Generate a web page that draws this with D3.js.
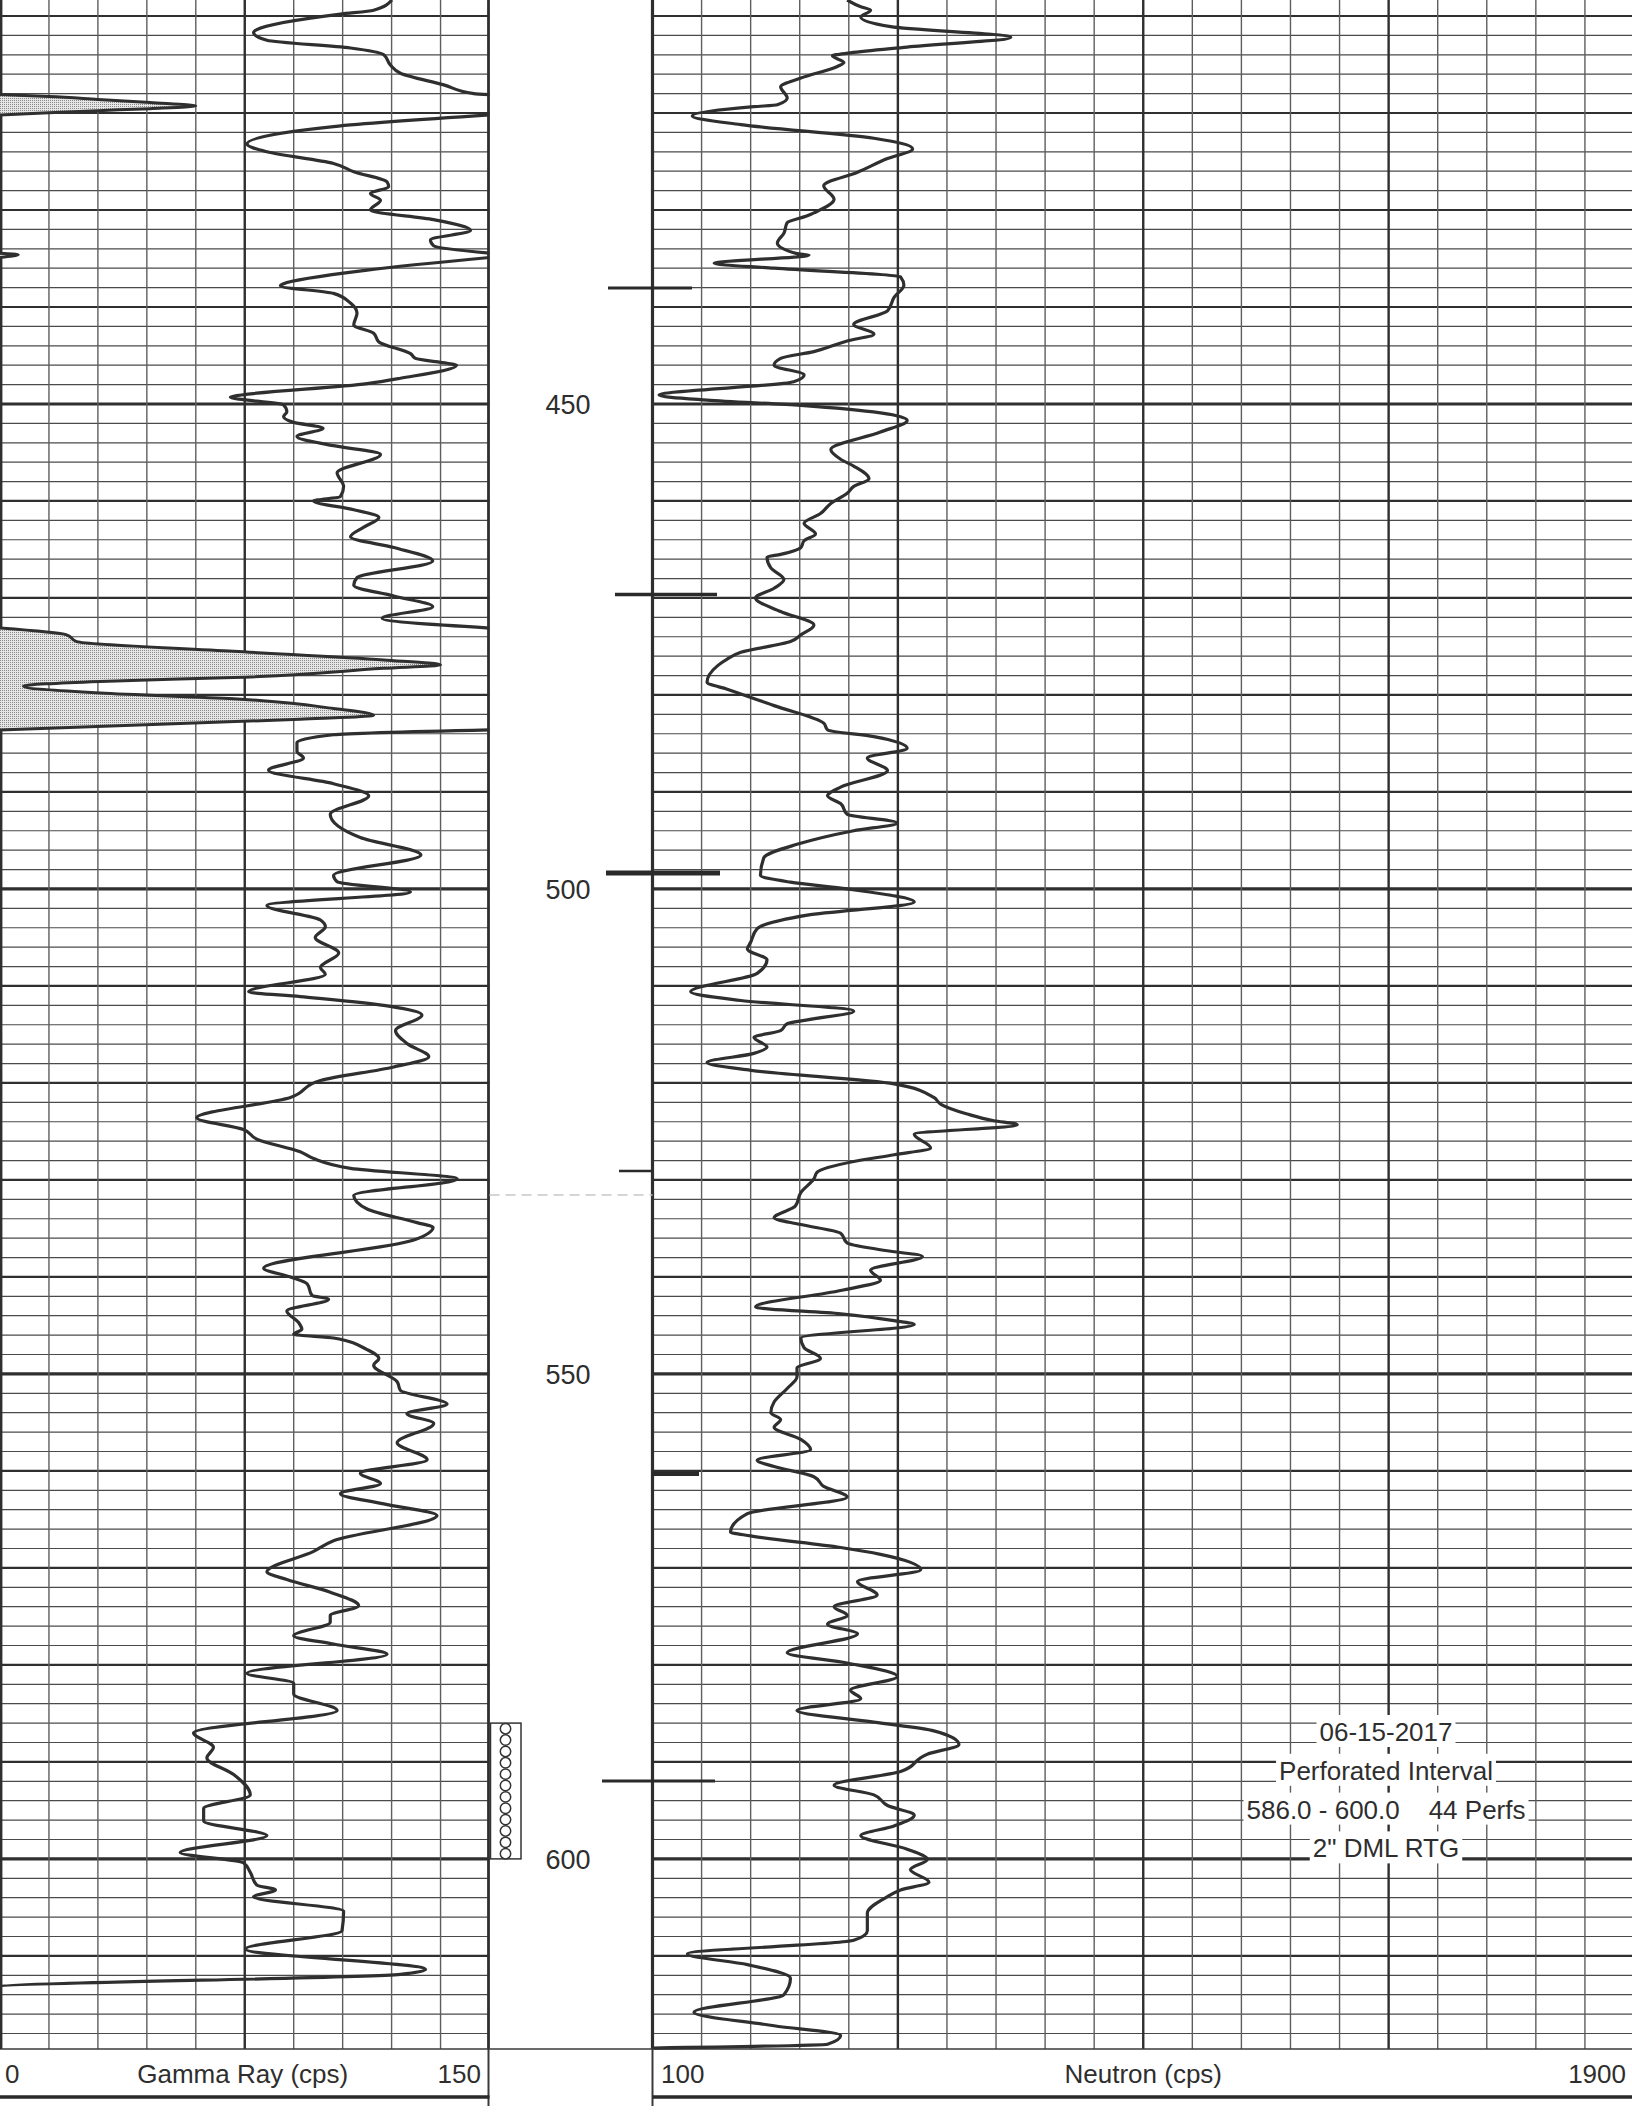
<!DOCTYPE html>
<html><head><meta charset="utf-8">
<script src="https://cdn.jsdelivr.net/npm/d3@7"></script>
<style>
html,body{margin:0;padding:0;background:#fff;}
svg{display:block;}
text{font-family:"Liberation Sans",Arial,sans-serif;fill:#2e2e2e;}
</style></head><body>
<svg id="chart" width="1632" height="2112"></svg>
<script>
// ---------- data ----------
// Gamma ray log [depth ft, cps]; values above 150 wrap onto the backup (shaded) scale
const grPoints = [
[408.35,120.1],[409.4,114.5],[409.8,104.3],[411.4,78.7],[411.7,77.7],[412.5,81.8],[413.3,107.4],[414.0,117.6],[415.05,119.6],[415.9,122.7],
[417.1,136],[418.0,145.2],[418.1,150],[418.3,165],[418.6,180],[418.93,196],[419.28,210],[419.55,196],[419.76,180],[419.97,165],
[420.2,150],[421.4,102.2],[421.9,90],[423.2,75.7],[424.0,81.8],[425.2,102.2],[426.05,108.4],[427.1,118.6],[427.6,119.1],[428.3,113.5],
[429.0,116.6],[430.0,113.5],[431.0,132.9],[432.1,144.2],[433.1,131.9],[433.7,132.9],[434.45,150],[434.6,155.6],[434.9,150],[436.2,112.5],
[437.6,86.9],[437.8,85.9],[438.6,102.2],[439.6,107.4],[440.65,109.4],[441.85,108.4],[442.7,114.5],[443.6,116.1],[444.8,125.8],[445.3,127.3],
[445.8,137],[446.0,139.9],[447.35,122.7],[447.9,112.5],[449.2,71.6],[449.3,70.6],[450.1,86.9],[450.8,87.9],[451.3,86.9],[451.9,90],
[452.5,99],[453.35,91],[454.3,102.2],[455.2,116.6],[457.1,103.3],[458.5,105.3],[459.55,104.3],[460.0,96.1],[460.9,108.4],[461.7,116.1],
[462.7,111.5],[463.7,107.4],[464.8,120.7],[466.2,132.6],[467.9,109.4],[468.7,108.4],[469.8,120.7],[470.9,132.6],[472.1,117.1],[473.1,150],
[473.8,170.4],[474.5,173.5],[475.5,221.6],[476.4,267.6],[476.9,285],[477.25,267.6],[478.2,221.6],[478.6,180.7],[479.1,157.2],[479.8,180.7],
[480.4,221.6],[481.4,252.2],[482.1,264.5],[482.5,242],[483.0,201],[483.6,150],[484.1,102.2],[484.9,91],[485.8,91],[486.5,93],
[487.75,82.3],[489.15,102.2],[490.4,113],[492.3,101.2],[494.7,110.4],[496.5,129],[498.6,102.2],[499.25,103.3],[500.3,125.8],[501.7,81.8],
[503.2,98.2],[503.9,99.7],[505.0,96.6],[506.6,103.8],[508.1,98.2],[508.8,99.7],[510.6,76.2],[511.1,92],[512.1,119.6],[513.0,129.3],
[514.6,121.2],[516.0,125],[517.3,131.4],[518.35,120.7],[519.75,98.2],[521.5,89],[523.6,60.3],[524.8,74.6],[525.8,78.7],[527.1,92],
[527.8,96.1],[528.8,107.4],[529.9,140.1],[531.6,108.4],[533.0,112.5],[534.4,127.8],[534.9,132.7],[536.2,126.8],[539.1,80.8],[540.0,89],
[540.7,94.1],[541.9,95.6],[542.3,100.7],[543.5,87.9],[544.7,91.5],[545.4,92.5],[545.9,90],[546.3,102.2],[547.5,112.5],[548.4,116.1],
[549.1,114.5],[550.8,121.7],[551.7,122.7],[553.1,137],[554.1,124.7],[555.1,132.9],[557.1,121.7],[558.85,130.9],[560.25,110.4],[561.3,116.6],
[562.35,104.3],[563.4,117.6],[564.6,133.9],[567.2,102.2],[568.3,96.1],[570.4,81.8],[571.2,87.9],[572.5,101.2],[573.9,109.9],[574.9,101.2],
[575.6,101.2],[577.0,90],[577.85,102.2],[578.9,118.6],[580.85,75.7],[581.9,90],[583.0,90],[584.7,103.3],[587.0,59.3],[588.5,65.4],
[589.6,63.4],[591.3,71.6],[593.4,76.7],[594.8,62.4],[596.1,62.4],[597.6,81.8],[599.35,55.2],[600.4,74.6],[601.4,76.7],[602.7,78.7],
[603.2,84.4],[603.9,77.7],[605.4,105.3],[607.4,104.8],[609.3,75.2],[611.4,130.4],[611.9,122.7],[613.2,0],[619.6,0]
];
// Neutron log [depth ft, cps]
const neutronPoints = [
[408.35,457],[409.05,482],[409.4,500],[410.1,482],[411.1,537],[412.2,757],[413.2,567],[413.8,463],[414.1,430],[414.8,451],
[415.2,439],[416.4,372],[417.3,335],[418.45,347],[419.15,329],[419.35,286],[420.3,173],[421.2,262],[422.6,506],[423.7,577],
[424.7,531],[426.1,476],[427.5,414],[428.9,433],[430.3,396],[430.6,384],[431.3,347],[432.4,341],[433.4,329],[434.5,365],
[434.65,387],[435.5,213],[436.0,323],[436.9,555],[437.75,561],[439.0,543],[440.4,531],[441.8,469],[442.8,506],[443.5,457],
[444.6,396],[445.3,335],[446.0,323],[447.0,378],[447.7,359],[449.1,112],[449.6,200],[450.15,372],[451.7,567],[452.9,518],
[454.7,427],[455.7,445],[456.4,469],[457.7,497],[458.5,469],[459.2,457],[460.25,427],[461.3,408],[462.3,378],[463.4,399],
[464.1,378],[464.8,372],[465.5,335],[465.8,310],[466.9,317],[468.1,341],[469.0,323],[470.0,289],[471.4,335],[472.8,396],
[473.8,372],[474.5,353],[475.6,262],[476.3,237],[477.0,219],[478.7,200],[479.4,237],[481.1,323],[482.9,414],[483.6,421],
[484.3,506],[485.5,567],[486.5,494],[487.8,531],[489.5,445],[490.4,421],[491.2,445],[492.3,457],[493.2,549],[494.0,469],
[495.4,365],[496.8,304],[498.6,298],[499.3,353],[500.0,457],[501.35,580],[502.7,384],[504.1,292],[505.5,280],[506.2,274],
[507.3,310],[508.7,292],[510.6,170],[511.5,262],[512.6,469],[513.5,384],[513.9,347],[514.6,335],[515.3,286],[516.3,310],
[516.95,286],[517.9,200],[518.7,280],[520.1,543],[521.5,616],[522.2,629],[523.2,677],[523.9,726],[524.3,769],[525.3,580],
[526.7,610],[527.4,543],[528.1,469],[529.2,402],[529.9,396],[531.3,372],[532.7,362],[533.9,323],[534.6,372],[535.5,445],
[536.5,457],[537.2,518],[537.9,595],[539.3,500],[540.35,518],[541.4,445],[543.1,289],[543.8,445],[544.5,543],[544.9,580],
[546.3,372],[547.3,378],[548.4,408],[549.4,365],[550.3,365],[551.5,347],[552.9,323],[554.0,317],[554.7,335],[555.5,323],
[556.75,372],[557.8,390],[558.9,292],[559.55,323],[560.6,396],[561.6,414],[562.7,457],[564.4,274],[566.3,243],[566.7,280],
[567.9,445],[568.6,518],[570.2,592],[571.4,476],[572.8,512],[574.0,433],[574.9,457],[575.8,421],[576.8,476],[578.75,347],
[579.8,457],[581.2,549],[582.6,463],[583.5,482],[584.7,365],[585.9,506],[586.8,616],[588.2,662],[589.2,604],[591.0,555],
[592.4,433],[593.4,506],[594.5,531],[595.5,580],[596.6,543],[597.6,482],[599.0,567],[600.05,604],[601.1,573],[602.4,607],
[603.2,555],[603.9,531],[605.6,494],[607.4,494],[608.4,469],[609.8,164],[610.9,274],[612.3,353],[614.0,341],[615.8,176],
[617.2,323],[618.2,445],[619.1,421],[619.5,102]
];
const depthDomain = [408.35, 619.6];
const depthLabels = [450, 500, 550, 600];
const grDomain = [0, 150];
const grLabels = ["0", "Gamma Ray (cps)", "150"];
const neutronDomain = [100, 1900];
const neutronLabels = ["100", "Neutron (cps)", "1900"];
const collarDepths = [438.04, 469.64, 498.35, 529.07, 560.31, 591.96];
const perfInterval = [586.0, 600.0];
const perfShots = 12;
const noteLines = ["06-15-2017", "Perforated Interval", "586.0 - 600.0    44 Perfs", "2\" DML RTG"];
const noteDepths = [588, 592, 596, 600];

// ---------- layout / style ----------
const W = 1632, H = 2112;
const gridBottom = 2049;
const grX = [0, 489.5];
const nX = [652.5, 1634];
const ink = "#2f2f2f";
const collarExtents = [[608,692,3],[615,717,3.5],[606,720,5],[619,652,2.5],[652,699,4],[602,715,3]];

const svg = d3.select("#chart");
const defs = svg.append("defs");
const pat = defs.append("pattern").attr("id","stipple").attr("width",2).attr("height",2).attr("patternUnits","userSpaceOnUse");
pat.append("rect").attr("width",2).attr("height",2).attr("fill","#e6e6e6");
pat.append("rect").attr("width",1).attr("height",1).attr("fill","#8a8a8a");

const y = d3.scaleLinear().domain(depthDomain).range([0, gridBottom]);
const xGR = d3.scaleLinear().domain(grDomain).range(grX);
const xN = d3.scaleLinear().domain(neutronDomain).range(nX);

svg.append("rect").attr("width",W).attr("height",H).attr("fill","#fff");

// ---------- grid ----------
const grid = svg.append("g");
const hDepths = d3.range(410, 619, 2);
function hw(d){ return d % 50 === 0 ? 3.2 : (d % 10 === 0 ? 2.2 : 1.2); }
function hc(d){ return d % 10 === 0 ? "#2f2f2f" : "#4a4a4a"; }
[[grX[0], grX[1]], [nX[0], W]].forEach(([a,b]) => {
  grid.selectAll(null).data(hDepths).enter().append("line")
    .attr("x1",a).attr("x2",b).attr("y1",d=>y(d)).attr("y2",d=>y(d))
    .attr("stroke",hc).attr("stroke-width",hw);
});
// vertical lines
const grTicks = d3.range(0, 151, 15);
grid.selectAll(null).data(grTicks).enter().append("line")
  .attr("x1",d=>Math.max(1,Math.min(488.5,xGR(d)))).attr("x2",d=>Math.max(1,Math.min(488.5,xGR(d))))
  .attr("y1",0).attr("y2",gridBottom)
  .attr("stroke",d=> (d===75||d===0||d===150) ? "#2f2f2f" : "#5e5e5e")
  .attr("stroke-width",d=> d===75 ? 2.4 : (d===0||d===150 ? 2.8 : 1.4));
const nTicks = d3.range(100, 1901, 90);
grid.selectAll(null).data(nTicks).enter().append("line")
  .attr("x1",d=>xN(d)).attr("x2",d=>xN(d)).attr("y1",0).attr("y2",gridBottom)
  .attr("stroke",d=> ((d-100)%450===0) ? "#2f2f2f" : "#5e5e5e")
  .attr("stroke-width",d=> d===100 ? 3.2 : (((d-100)%450===0) ? 2.4 : 1.4));
// grid bottom border across page
grid.append("line").attr("x1",0).attr("x2",W).attr("y1",gridBottom).attr("y2",gridBottom)
  .attr("stroke","#3a3a3a").attr("stroke-width",1.5);
// track borders extend into label band
[488.5, nX[0]].forEach(x => grid.append("line").attr("x1",x).attr("x2",x)
  .attr("y1",gridBottom).attr("y2",2106).attr("stroke","#3a3a3a").attr("stroke-width",2));
// bottom heavy lines
grid.append("line").attr("x1",0).attr("x2",grX[1]).attr("y1",2097).attr("y2",2097).attr("stroke","#2a2a2a").attr("stroke-width",3.5);
grid.append("line").attr("x1",nX[0]).attr("x2",W).attr("y1",2097).attr("y2",2097).attr("stroke","#2a2a2a").attr("stroke-width",3.5);
// faint paper fold in the depth track
grid.append("line").attr("x1",grX[1]).attr("x2",nX[0]).attr("y1",1195).attr("y2",1195)
  .attr("stroke","#c8c8c8").attr("stroke-width",1.5).attr("stroke-dasharray","10,6");

// ---------- curves ----------
const curves = svg.append("g");
const grData = grPoints.map(([d,v]) => ({d, v}));
const nData = neutronPoints.map(([d,v]) => ({d, v}));

// backup (wrapped) gamma ray, shaded from the left edge
const backArea = d3.area().defined(p => p.v >= 150)
  .y(p => y(p.d)).x0(xGR(0)).x1(p => xGR(p.v - 150)).curve(d3.curveMonotoneY);
const backLine = d3.line().defined(p => p.v >= 150)
  .y(p => y(p.d)).x(p => xGR(p.v - 150)).curve(d3.curveMonotoneY);
curves.append("path").attr("d", backArea(grData)).attr("fill","url(#stipple)");
curves.append("path").attr("d", backLine(grData)).attr("fill","none")
  .attr("stroke",ink).attr("stroke-width",3).attr("stroke-linejoin","round");

// main gamma ray: only where on scale (segments beyond 150 are shown on the backup)
const grLine = d3.line().defined(p => p.v <= 150)
  .y(p => y(p.d)).x(p => xGR(p.v)).curve(d3.curveMonotoneY);
curves.append("path").attr("d", grLine(grData)).attr("fill","none")
  .attr("stroke",ink).attr("stroke-width",3.2).attr("stroke-linejoin","round");

const nLine = d3.line().y(p => y(p.d)).x(p => xN(p.v)).curve(d3.curveMonotoneY);
curves.append("path").attr("d", nLine(nData)).attr("fill","none")
  .attr("stroke",ink).attr("stroke-width",3.2).attr("stroke-linejoin","round");

// ---------- depth track ----------
const dt = svg.append("g");
dt.selectAll(null).data(depthLabels).enter().append("text")
  .attr("x",568).attr("y",d=>y(d)).attr("dy","0.36em").attr("text-anchor","middle")
  .attr("font-size",27).text(d=>d);
dt.selectAll(null).data(collarDepths).enter().append("line")
  .attr("x1",(d,i)=>collarExtents[i][0]).attr("x2",(d,i)=>collarExtents[i][1])
  .attr("y1",d=>y(d)).attr("y2",d=>y(d))
  .attr("stroke","#2a2a2a").attr("stroke-width",(d,i)=>collarExtents[i][2]);
// perforation box
const pTop = y(perfInterval[0]), pBot = y(perfInterval[1]);
dt.append("rect").attr("x",490.5).attr("y",pTop).attr("width",30.5).attr("height",pBot-pTop)
  .attr("fill","#fff").attr("stroke","#333").attr("stroke-width",1.5);
const shotY = d3.scaleLinear().domain([0, perfShots-1]).range([pTop+5.6, pBot-5.2]);
dt.selectAll(null).data(d3.range(perfShots)).enter().append("circle")
  .attr("cx",505.5).attr("cy",i=>shotY(i)).attr("r",5.2)
  .attr("fill","#fff").attr("stroke","#333").attr("stroke-width",1.5);

// ---------- bottom labels ----------
const lab = svg.append("g").attr("font-size",26);
lab.append("text").attr("x",5).attr("y",2083).text(grLabels[0]);
lab.append("text").attr("x",xGR(75)-2).attr("y",2083).attr("text-anchor","middle").text(grLabels[1]);
lab.append("text").attr("x",481).attr("y",2083).attr("text-anchor","end").text(grLabels[2]);
lab.append("text").attr("x",661).attr("y",2083).text(neutronLabels[0]);
lab.append("text").attr("x",xN(1000)).attr("y",2083).attr("text-anchor","middle").text(neutronLabels[1]);
lab.append("text").attr("x",1626).attr("y",2083).attr("text-anchor","end").text(neutronLabels[2]);

// ---------- annotation ----------
const note = svg.append("g").attr("font-size",26);
noteLines.forEach((t,i) => {
  const g = note.append("g");
  const by = y(noteDepths[i]) - 1.5;
  const tx = g.append("text").attr("x",1386).attr("y",by).attr("text-anchor","middle")
    .style("white-space","pre").attr("xml:space","preserve").text(t);
  const bb = tx.node().getBBox();
  g.insert("rect","text").attr("x",bb.x-3).attr("y",by-26).attr("width",bb.width+6).attr("height",32).attr("fill","#fff");
});
</script>
</body></html>
